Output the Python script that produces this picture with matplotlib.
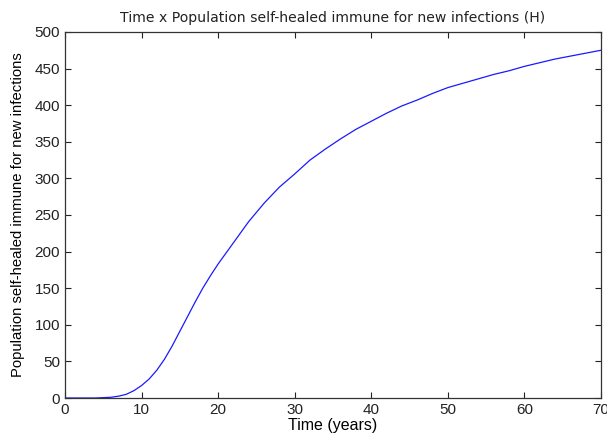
import numpy as np
from matplotlib import pyplot as plt

plt.rcParams['font.family'] = ['Liberation Sans', 'DejaVu Sans']

# values
time_years = [0, 2, 4, 6, 7, 8, 9, 10, 11, 12, 13, 14, 15, 16, 17, 18, 19, 20,
              22, 24, 26, 28, 30, 32, 34, 36, 38, 40, 42, 44, 46, 48, 50,
              52, 54, 56, 58, 60, 62, 64, 66, 68, 70]
healed = [0, 0, 0, 1, 2.5, 5, 10, 17, 26, 38, 53, 71, 91, 111, 131, 150, 167, 183,
          212, 241, 266, 288, 306, 325, 340, 354, 367, 378, 389, 399, 407, 416, 424,
          430, 436, 442, 447, 453, 458, 463, 467, 471, 475]

fig = plt.figure(figsize=(6.07, 4.41), dpi=100)
ax = fig.add_axes([0.107, 0.0975, 0.883, 0.83])

ax.plot(time_years, healed, color='#1a1aff', linewidth=0.9)
ax.set_xlim(0, 70)
ax.set_ylim(0, 500)
ax.set_xticks(np.arange(0, 71, 10))
ax.set_yticks(np.arange(0, 501, 50))

ax.tick_params(direction='in', top=True, right=True, length=4, width=0.8,
               labelsize=11, colors='#222222')
for s in ax.spines.values():
    s.set_linewidth(0.9)
    s.set_color('#333333')

ax.set_xlabel("Time (years)", fontsize=11.5, labelpad=1)
ax.set_ylabel("Population self-healed immune for new infections", fontsize=10.7, labelpad=7)
ax.set_title("Time x Population self-healed immune for new infections (H)",
             fontsize=10.1, family='DejaVu Sans', pad=7, color='#222222')

fig.savefig('out.png', dpi=100)
